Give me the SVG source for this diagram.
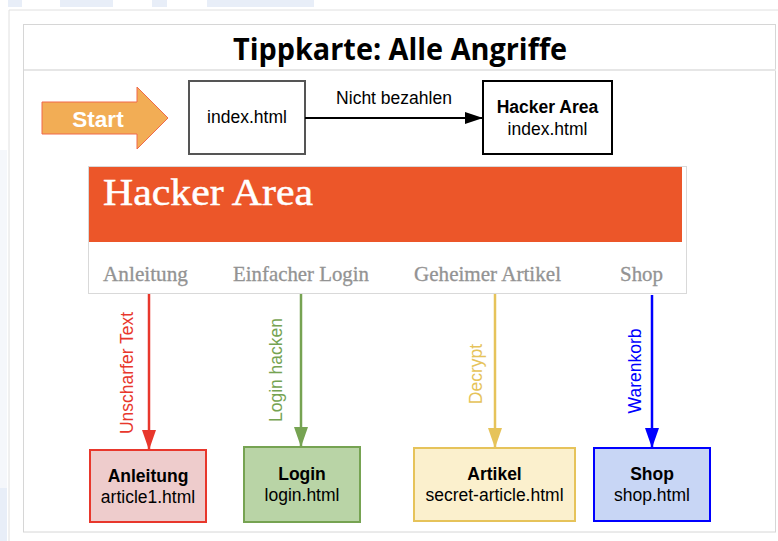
<svg xmlns="http://www.w3.org/2000/svg" width="778" height="541" viewBox="0 0 778 541">
  <style>
    .lbl { font-family: "Liberation Sans", Arial, sans-serif; font-size: 17.5px; fill: #000; }
    .b { font-weight: bold; }
    .mid { text-anchor: middle; }
    .nav { font-family: "Liberation Serif", "Times New Roman", serif; font-size: 21px; fill: #939393; stroke: #939393; stroke-width: 0.3; }
    .node { stroke-width: 2; }
  </style>
  <defs>
    <marker id="hBlack" viewBox="0 0 18 12" refX="18" refY="6" markerWidth="18" markerHeight="12" markerUnits="userSpaceOnUse" orient="auto"><path d="M0,0 L18,6 L0,12 Z" fill="#000"/></marker>
    <marker id="hRed" viewBox="0 0 20 14" refX="20" refY="7" markerWidth="20" markerHeight="14" markerUnits="userSpaceOnUse" orient="auto"><path d="M0,0 L20,7 L0,14 Z" fill="#e8372c"/></marker>
    <marker id="hGreen" viewBox="0 0 20 14" refX="20" refY="7" markerWidth="20" markerHeight="14" markerUnits="userSpaceOnUse" orient="auto"><path d="M0,0 L20,7 L0,14 Z" fill="#76a352"/></marker>
    <marker id="hYellow" viewBox="0 0 20 14" refX="20" refY="7" markerWidth="20" markerHeight="14" markerUnits="userSpaceOnUse" orient="auto"><path d="M0,0 L20,7 L0,14 Z" fill="#e6c35a"/></marker>
    <marker id="hBlue" viewBox="0 0 20 14" refX="20" refY="7" markerWidth="20" markerHeight="14" markerUnits="userSpaceOnUse" orient="auto"><path d="M0,0 L20,7 L0,14 Z" fill="#0000ff"/></marker>
  </defs>

  <!-- background -->
  <rect x="0" y="0" width="778" height="541" fill="#ffffff"/>
  <g fill="#e8eef8">
    <rect x="8" y="0" width="14" height="7"/>
    <rect x="60" y="0" width="53" height="7"/>
    <rect x="152" y="0" width="15" height="7"/>
    <rect x="207" y="0" width="107" height="7"/>
    <rect x="0" y="488" width="7" height="53"/>
  </g>
  <rect x="0" y="150" width="7" height="338" fill="#f5f7fb"/>
  <!-- outer frame -->
  <path d="M9,541 L9,10 L778,10" fill="none" stroke="#e0e0e0" stroke-width="1"/>
  <!-- inner frame -->
  <rect x="23.5" y="24.5" width="752" height="507.5" fill="#ffffff" stroke="#d6d6d6" stroke-width="1"/>
  <line x1="24" y1="70" x2="776" y2="70" stroke="#e6e6e6" stroke-width="2"/>

  <!-- title -->
  <g id="title">
    <text x="400" y="60" text-anchor="middle" font-family="'Open Sans', 'Liberation Sans', sans-serif" font-weight="bold" font-size="31" textLength="334" lengthAdjust="spacingAndGlyphs" fill="#000">Tippkarte: Alle Angriffe</text>
  </g>

  <!-- start arrow -->
  <g id="start">
    <path d="M42,102 L137,102 L137,87 L168,118 L137,149 L137,134 L42,134 Z" fill="#f2ad55" stroke="#f0694a" stroke-width="1"/>
    <text x="98" y="127" class="mid" font-family="'Liberation Sans', Arial, sans-serif" font-weight="bold" font-size="22.5" fill="#ffffff">Start</text>
  </g>

  <g id="index">
    <rect class="node" x="189" y="81" width="116" height="73" fill="#ffffff" stroke="#555555"/>
    <text class="lbl mid" x="247" y="123">index.html</text>
  </g>

  <g id="hacker-area">
    <rect class="node" x="483" y="81" width="129" height="73" fill="#ffffff" stroke="#000000"/>
    <text class="lbl mid b" x="547.5" y="113">Hacker Area</text>
    <text class="lbl mid" x="547.5" y="135">index.html</text>
  </g>

  <!-- screenshot -->
  <g id="screenshot">
    <rect x="88.5" y="166.5" width="598" height="127" fill="#ffffff" stroke="#d9d9d9" stroke-width="1"/>
    <rect x="89" y="167" width="593" height="75" fill="#ec5629"/>
    <text x="103" y="205" font-family="'Liberation Serif', 'Times New Roman', serif" font-size="38" fill="#ffffff" stroke="#ffffff" stroke-width="0.5" textLength="210" lengthAdjust="spacingAndGlyphs">Hacker Area</text>
    <text class="nav" x="103" y="281" textLength="85" lengthAdjust="spacingAndGlyphs">Anleitung</text>
    <text class="nav" x="233" y="281" textLength="136" lengthAdjust="spacingAndGlyphs">Einfacher Login</text>
    <text class="nav" x="414" y="281" textLength="147" lengthAdjust="spacingAndGlyphs">Geheimer Artikel</text>
    <text class="nav" x="620" y="281" textLength="43" lengthAdjust="spacingAndGlyphs">Shop</text>
  </g>

  <!-- connectors -->
  <g id="connectors" fill="none" stroke-width="2.5">
    <line x1="305" y1="118" x2="483" y2="118" stroke="#000" stroke-width="2" marker-end="url(#hBlack)"/>
    <text class="lbl mid" x="394" y="104" stroke="none">Nicht bezahlen</text>

    <line x1="149" y1="294" x2="149" y2="450" stroke="#e8372c" marker-end="url(#hRed)"/>
    <text class="lbl mid" transform="translate(133,373) rotate(-90)" stroke="none" style="fill:#e8372c">Unscharfer Text</text>

    <line x1="301" y1="294" x2="301" y2="447" stroke="#76a352" marker-end="url(#hGreen)"/>
    <text class="lbl mid" transform="translate(282,370) rotate(-90)" stroke="none" style="fill:#76a352">Login hacken</text>

    <line x1="495" y1="294" x2="495" y2="448" stroke="#e6c35a" marker-end="url(#hYellow)"/>
    <text class="lbl mid" transform="translate(482,374) rotate(-90)" stroke="none" style="fill:#e6c35a">Decrypt</text>

    <line x1="652" y1="295" x2="652" y2="448" stroke="#0000ff" marker-end="url(#hBlue)"/>
    <text class="lbl mid" transform="translate(641,371) rotate(-90)" stroke="none" style="fill:#0000ff">Warenkorb</text>
  </g>

  <!-- bottom nodes -->
  <g id="anleitung">
    <rect class="node" x="90" y="450" width="116" height="72" fill="#eecccc" stroke="#e8372c"/>
    <text class="lbl mid b" x="148" y="482">Anleitung</text>
    <text class="lbl mid" x="148" y="503">article1.html</text>
  </g>
  <g id="login">
    <rect class="node" x="244" y="447" width="116" height="75" fill="#b9d4a6" stroke="#76a352"/>
    <text class="lbl mid b" x="302" y="480">Login</text>
    <text class="lbl mid" x="302" y="501">login.html</text>
  </g>
  <g id="artikel">
    <rect class="node" x="414" y="448" width="161" height="73" fill="#fbf0cd" stroke="#e6c35a"/>
    <text class="lbl mid b" x="494.5" y="480">Artikel</text>
    <text class="lbl mid" x="494.5" y="501">secret-article.html</text>
  </g>
  <g id="shop">
    <rect class="node" x="594" y="448" width="116" height="73" fill="#c8d6f5" stroke="#0000ff"/>
    <text class="lbl mid b" x="652" y="480">Shop</text>
    <text class="lbl mid" x="652" y="501">shop.html</text>
  </g>
</svg>
